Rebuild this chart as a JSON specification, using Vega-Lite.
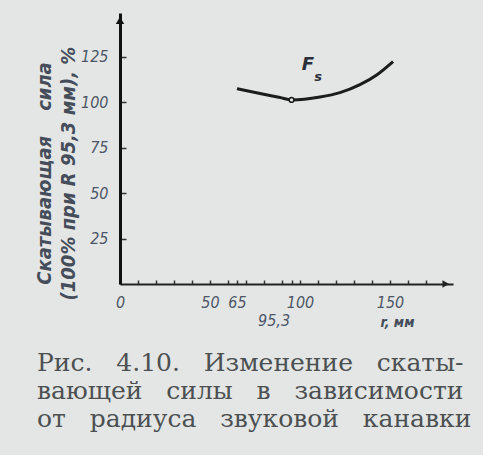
{
  "$schema": "https://vega.github.io/schema/vega-lite/v6.json",
  "width": 333,
  "height": 271,
  "autosize": "none",
  "padding": {"left": 120, "top": 13, "right": 30, "bottom": 171},
  "background": "#e3e6e4",
  "config": {
    "view": {"stroke": null},
    "axis": {
      "labelFont": "DejaVu Sans Condensed",
      "labelFontStyle": "italic",
      "labelFontSize": 16,
      "labelColor": "#4e5666",
      "titleFont": "DejaVu Sans Condensed",
      "titleFontStyle": "italic",
      "titleFontWeight": "bold",
      "titleColor": "#454c5a",
      "grid": false
    }
  },
  "title": {
    "text": [
      "Рис.\u00a0\u00a0 4.10.\u00a0\u00a0 Изменение\u00a0\u00a0 скаты-",
      "вающей\u00a0\u00a0 силы\u00a0\u00a0 в\u00a0\u00a0 зависимости",
      "от\u00a0\u00a0 радиуса\u00a0\u00a0 звуковой\u00a0\u00a0 канавки"
    ],
    "orient": "bottom",
    "anchor": "start",
    "frame": "group",
    "dx": -83,
    "offset": 22,
    "font": "DejaVu Serif",
    "fontSize": 25,
    "fontWeight": "normal",
    "color": "#4c5052",
    "lineHeight": 28
  },
  "datasets": {
    "curve": [
      {"r": 65, "v": 107.4},
      {"r": 77.8, "v": 104.7},
      {"r": 88.9, "v": 102.5},
      {"r": 95.3, "v": 101.2},
      {"r": 111.1, "v": 102.8},
      {"r": 122.2, "v": 105.2},
      {"r": 133.3, "v": 109.6},
      {"r": 142.8, "v": 115.1},
      {"r": 151.7, "v": 122.3}
    ]
  },
  "encoding": {
    "x": {
      "field": "r",
      "type": "quantitative",
      "scale": {"domain": [0, 185], "nice": false, "zero": true},
      "axis": {
        "values": [0, 10, 20, 30, 40, 50, 60, 65, 70, 80, 90, 95.3, 100, 110, 120, 130, 140, 150, 160, 170],
        "labelExpr": "datum.value == 0 ? '0' : datum.value == 50 ? '50' : datum.value == 65 ? '65' : datum.value == 95.3 ? '95,3' : datum.value == 100 ? '100' : datum.value == 150 ? '150' : ''",
        "labelPadding": {"condition": {"test": "datum.value == 95.3", "value": 32}, "value": 14},
        "labelOffset": {"condition": {"test": "datum.value == 95.3", "value": -18}, "value": 0},
        "labelOverlap": false,
        "labelBound": false,
        "labelFlush": false,
        "tickSize": -4,
        "tickColor": "#333333",
        "tickWidth": 1.5,
        "domainColor": "#222222",
        "domainWidth": 2,
        "title": "r, мм",
        "titleX": 277,
        "titleY": 38,
        "titleAlign": "center",
        "titleBaseline": "middle",
        "titleFontSize": 14
      }
    },
    "y": {
      "field": "v",
      "type": "quantitative",
      "scale": {"domain": [0, 149], "nice": false},
      "axis": {
        "values": [25, 50, 75, 100, 125],
        "tickSize": -6,
        "tickColor": "#333333",
        "tickWidth": 1.5,
        "labelPadding": 18,
        "domainColor": "#111111",
        "domainWidth": 3,
        "title": ["Скатывающая\u00a0\u00a0\u00a0 сила", "(100% при R 95,3 мм), %"],
        "titleFontSize": 20,
        "titleLineHeight": 24,
        "titleX": -76,
        "titleY": 160,
        "titleAlign": "center",
        "titleBaseline": "middle"
      }
    }
  },
  "layer": [
    {
      "data": {"name": "curve"},
      "mark": {"type": "line", "interpolate": "monotone", "color": "#1c1c1c", "strokeWidth": 3}
    },
    {
      "data": {"values": [{"r": 95.3, "v": 101.2}]},
      "mark": {"type": "point", "shape": "circle", "size": 22, "filled": true, "fill": "#e3e6e4", "stroke": "#1c1c1c", "strokeWidth": 1.5, "opacity": 1}
    },
    {
      "data": {"values": [{"r": 0, "v": 145}]},
      "mark": {"type": "point", "shape": "triangle-up", "size": 70, "filled": true, "color": "#111111", "opacity": 1}
    },
    {
      "data": {"values": [{"r": 181, "v": 0}]},
      "mark": {"type": "point", "shape": "triangle-right", "size": 60, "filled": true, "color": "#222222", "opacity": 1}
    },
    {
      "data": {"values": [{"r": 104.4, "v": 120.5, "t": "F"}]},
      "mark": {"type": "text", "font": "DejaVu Sans", "fontStyle": "italic", "fontWeight": "bold", "fontSize": 18, "color": "#2a2f3a"},
      "encoding": {"text": {"field": "t"}}
    },
    {
      "data": {"values": [{"r": 110, "v": 114, "t": "s"}]},
      "mark": {"type": "text", "font": "DejaVu Sans", "fontStyle": "italic", "fontWeight": "bold", "fontSize": 13, "color": "#2a2f3a"},
      "encoding": {"text": {"field": "t"}}
    }
  ]
}
